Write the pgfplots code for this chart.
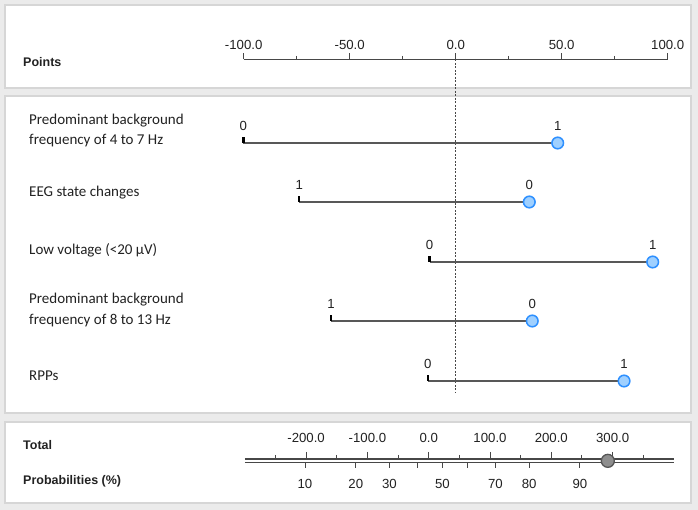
\documentclass[border=0pt]{standalone}
\usepackage{pgfplots}
\pgfplotsset{compat=1.18}
\usepackage{pgfplotstable}
\usepackage{fontspec}
\setmainfont{Liberation Sans}
\newfontfamily\labelfont{Carlito}

\definecolor{pagebg}{HTML}{EBEBEB}
\definecolor{panelrule}{HTML}{D6D6D6}
\definecolor{axisgray}{HTML}{474747}
\definecolor{rowline}{HTML}{585858}
\definecolor{dotfill}{HTML}{9FD0FF}
\definecolor{dotdraw}{HTML}{2E90FF}
\definecolor{totfill}{HTML}{8E8E8E}
\definecolor{totdraw}{HTML}{555555}
\definecolor{txt}{HTML}{222222}

% short upright tick marking the left end of a predictor line
\pgfdeclareplotmark{uptick}{%
  \pgfpathmoveto{\pgfpointorigin}%
  \pgfpathlineto{\pgfpoint{0pt}{6pt}}%
  \pgfusepathqstroke}

% predictors: row position (from top), points at the two levels, level names
\pgfplotstableread{
pos   start   end   sl  el
143   -100.0  48.3  0   1
202    -73.6  34.9  1   0
262    -12.1  93.1  0   1
321    -58.6  36.3  1   0
381    -13.0  79.6  0   1
}\rows

\pgfplotsset{
  scaleaxis/.style={
    scale only axis, clip=false, ymin=0, ymax=1,
    axis y line=none,
    x axis line style={axisgray, line width=1.1pt, -},
    tick align=outside,
    tick style={axisgray, line width=1pt},
    /pgf/number format/assume math mode=true,
    xticklabel style={font=\fontsize{13.2}{15}\selectfont, text=txt,
      /pgf/number format/fixed, /pgf/number format/fixed zerofill,
      /pgf/number format/precision=1,
      /pgf/number format/assume math mode=true}},
}

\begin{document}
\begin{tikzpicture}[x=1pt,y=1pt]
% page and panels
\fill[pagebg] (0,0) rectangle (698,510);
\foreach \yb/\yt in {422/505, 97/414, 7/88}
  \filldraw[fill=white, draw=panelrule, line width=1.5pt] (5,\yb) rectangle (691,\yt);

% row titles
\node[anchor=west, inner sep=0pt, font=\bfseries\fontsize{12.5}{14}\selectfont, text=txt] at (23,448) {Points};
\begin{scope}[every node/.style={anchor=west, inner sep=0pt, align=left,
    font=\labelfont\fontsize{15}{20.7}\selectfont, text=txt}]
  \node at (29,379.6) {Predominant background\\frequency of 4 to 7 Hz};
  \node at (29,317.3) {EEG state changes};
  \node at (29,259.5) {Low voltage (<20 µV)};
  \node at (29,200.3) {Predominant background\\frequency of 8 to 13 Hz};
  \node at (29,134) {RPPs};
\end{scope}
\node[anchor=west, inner sep=0pt, font=\bfseries\fontsize{12.5}{14}\selectfont, text=txt] at (23,65) {Total};
\node[anchor=west, inner sep=0pt, font=\bfseries\fontsize{12.5}{14}\selectfont, text=txt] at (23,28.3) {Probabilities (\%)};

% predictor lines, in points
\begin{axis}[at={(0pt,0pt)}, anchor=south west, width=698pt, height=510pt,
  scale only axis, hide axis, clip=false,
  xmin=-214.76, xmax=114.48, ymin=0, ymax=510, y dir=reverse,
  every node near coord/.style={anchor=center, yshift=17pt, text=txt,
    font=\fontsize{13.2}{15}\selectfont}]
  \addplot[axisgray, line width=0.8pt, dash pattern=on 2pt off 1.5pt] coordinates {(0,59.3) (0,393)};
  \addplot[rowline, line width=1.4pt, mark=none, -,
    quiver={u=\thisrow{end}-\thisrow{start}, v=0}] table[x=start, y=pos] {\rows};
  \addplot[only marks, mark=uptick, mark options={black, line width=2.4pt}] table[x=start, y=pos] {\rows};
  \addplot[only marks, mark=*, mark size=5.8pt,
    mark options={fill=dotfill, draw=dotdraw, line width=1.5pt}] table[x=end, y=pos] {\rows};
  \addplot[draw=none, mark=none, nodes near coords, point meta=explicit symbolic]
    table[x=start, y=pos, meta=sl] {\rows};
  \addplot[draw=none, mark=none, nodes near coords, point meta=explicit symbolic]
    table[x=end, y=pos, meta=el] {\rows};
\end{axis}

% points scale
\begin{axis}[scaleaxis, at={(243.7pt,450.7pt)}, anchor=north west,
  width=424pt, height=10pt, xmin=-100, xmax=100, axis x line*=top,
  xtick={-100,-50,...,100}, minor xtick={-75,-25,25,75},
  major tick length=6pt, minor tick length=3.3pt]
  \addplot[draw=none] coordinates {(0,0)};
\end{axis}

% probability scale (lower line)
\begin{axis}[scaleaxis, at={(244.8pt,51pt)}, anchor=north west,
  width=429.1pt, height=3.7pt, xmin=-300, xmax=400, axis x line*=bottom,
  xtick={-201.8,-119.0,-64.0,-18.9,22.5,63.8,108.9,164.0,246.8},
  xticklabels={10,20,30,,50,,70,80,90},
  every x tick label/.append style={yshift=-8pt},
  major tick length=5.3pt]
  \addplot[draw=none] coordinates {(0,0)};
\end{axis}

% total points scale (upper line) with the summed score
\begin{axis}[scaleaxis, at={(244.8pt,51pt)}, anchor=north west,
  width=429.1pt, height=3.7pt, xmin=-300, xmax=400, axis x line*=top,
  xtick={-200,-100,...,300}, minor xtick={-250,-150,...,350},
  every x tick label/.append style={yshift=6pt},
  major tick length=7pt, minor tick length=4pt]
  \addplot[only marks, mark=*, mark size=6.5pt,
    mark options={fill=totfill, draw=totdraw, line width=1.3pt}] coordinates {(292.2,0.5)};
\end{axis}

\pgfresetboundingbox
\path[use as bounding box] (0,0) rectangle (698,510);
\end{tikzpicture}
\end{document}
